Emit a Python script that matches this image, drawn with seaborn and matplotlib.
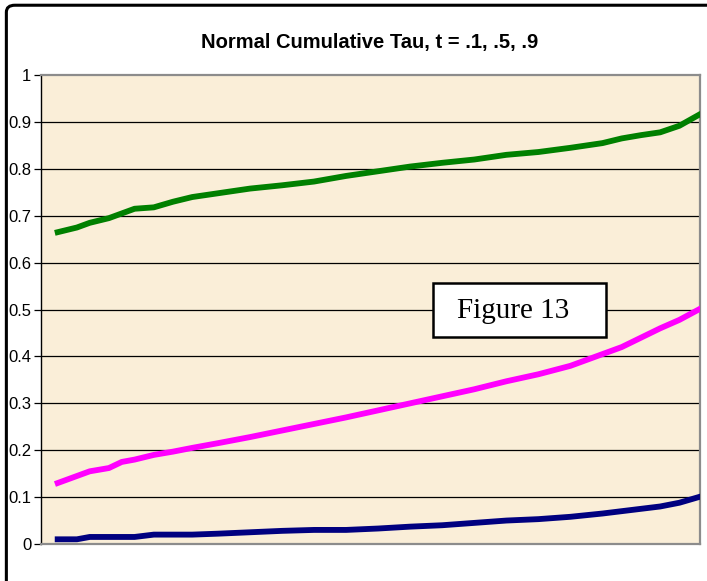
import matplotlib
matplotlib.use('Agg')
import matplotlib.pyplot as plt
from matplotlib.patches import FancyBboxPatch, Rectangle
import seaborn as sns
import pandas as pd

# Posições no eixo horizontal (sem rótulos no original)
x_pos = [0, 3, 5, 8, 10, 12, 15, 18, 21, 25, 30, 35, 40, 45, 50, 55, 60,
         65, 70, 75, 80, 85, 88, 91, 94, 97, 100]

# Curvas
tau_09 = [0.665, 0.675, 0.685, 0.695, 0.705, 0.715, 0.718, 0.73, 0.74, 0.748,
          0.758, 0.765, 0.773, 0.785, 0.795, 0.805, 0.813, 0.82, 0.83, 0.836,
          0.845, 0.855, 0.865, 0.872, 0.878, 0.892, 0.915]
tau_05 = [0.13, 0.145, 0.155, 0.162, 0.175, 0.18, 0.19, 0.197, 0.205, 0.215,
          0.228, 0.242, 0.256, 0.27, 0.285, 0.3, 0.315, 0.33, 0.347, 0.362,
          0.38, 0.405, 0.42, 0.44, 0.46, 0.478, 0.5]
tau_01 = [0.01, 0.01, 0.015, 0.015, 0.015, 0.015, 0.02, 0.02, 0.02, 0.022,
          0.025, 0.028, 0.03, 0.03, 0.033, 0.037, 0.04, 0.045, 0.05, 0.053,
          0.058, 0.065, 0.07, 0.075, 0.08, 0.088, 0.1]

df = pd.DataFrame({'x': x_pos, 't09': tau_09, 't05': tau_05, 't01': tau_01})

fig = plt.figure(figsize=(7.07, 5.81), dpi=100)
ax = fig.add_axes([0.058, 0.0637, 0.932, 0.807])
ax.set_facecolor('#FAEED8')

# Linhas de grade pretas
for y in [0.1, 0.2, 0.3, 0.4, 0.5, 0.6, 0.7, 0.8, 0.9]:
    ax.axhline(y, color='black', lw=0.9, zorder=1)

sns.lineplot(data=df, x='x', y='t09', color='#008000', lw=4.2, ax=ax, zorder=3)
sns.lineplot(data=df, x='x', y='t05', color='#FF00FF', lw=4.2, ax=ax, zorder=3)
sns.lineplot(data=df, x='x', y='t01', color='#000080', lw=4.2, ax=ax, zorder=3)

ax.set_xlim(-2.6, 100.2)
ax.set_ylim(0, 1)
ax.set_yticks([0, 0.1, 0.2, 0.3, 0.4, 0.5, 0.6, 0.7, 0.8, 0.9, 1])
ax.set_yticklabels(['0', '0.1', '0.2', '0.3', '0.4', '0.5', '0.6', '0.7', '0.8', '0.9', '1'],
                   fontsize=12, family='Liberation Sans')
ax.set_xticks([])
ax.set_xlabel('')
ax.set_ylabel('')
ax.tick_params(axis='y', length=5, width=0.9, color='black', pad=2)

ax.spines['left'].set_color('black')
ax.spines['left'].set_linewidth(1.0)
for s in ['top', 'right', 'bottom']:
    ax.spines[s].set_color('#8C8C8C')
    ax.spines[s].set_linewidth(1.6)

fig.text(0.523, 0.927, 'Normal Cumulative Tau, t = .1, .5, .9', ha='center', va='center',
         fontsize=14.5, fontweight='bold', family='Liberation Sans')

# Caixa "Figure 13"
ax.add_patch(Rectangle((0.595, 0.441), 0.262, 0.115, transform=ax.transAxes,
                       facecolor='white', edgecolor='black', lw=1.8, zorder=5))
ax.text(0.716, 0.497, 'Figure 13', transform=ax.transAxes, ha='center', va='center',
        fontsize=21, family='Liberation Serif', zorder=6)

# Moldura da figura
frame = FancyBboxPatch((0.009, -0.05), 1.05, 1.041, transform=fig.transFigure,
                       boxstyle='round,pad=0,rounding_size=0.012', facecolor='none',
                       edgecolor='black', lw=2.2, clip_on=False)
fig.patches.append(frame)

fig.savefig('out.png', dpi=100, facecolor='white')
